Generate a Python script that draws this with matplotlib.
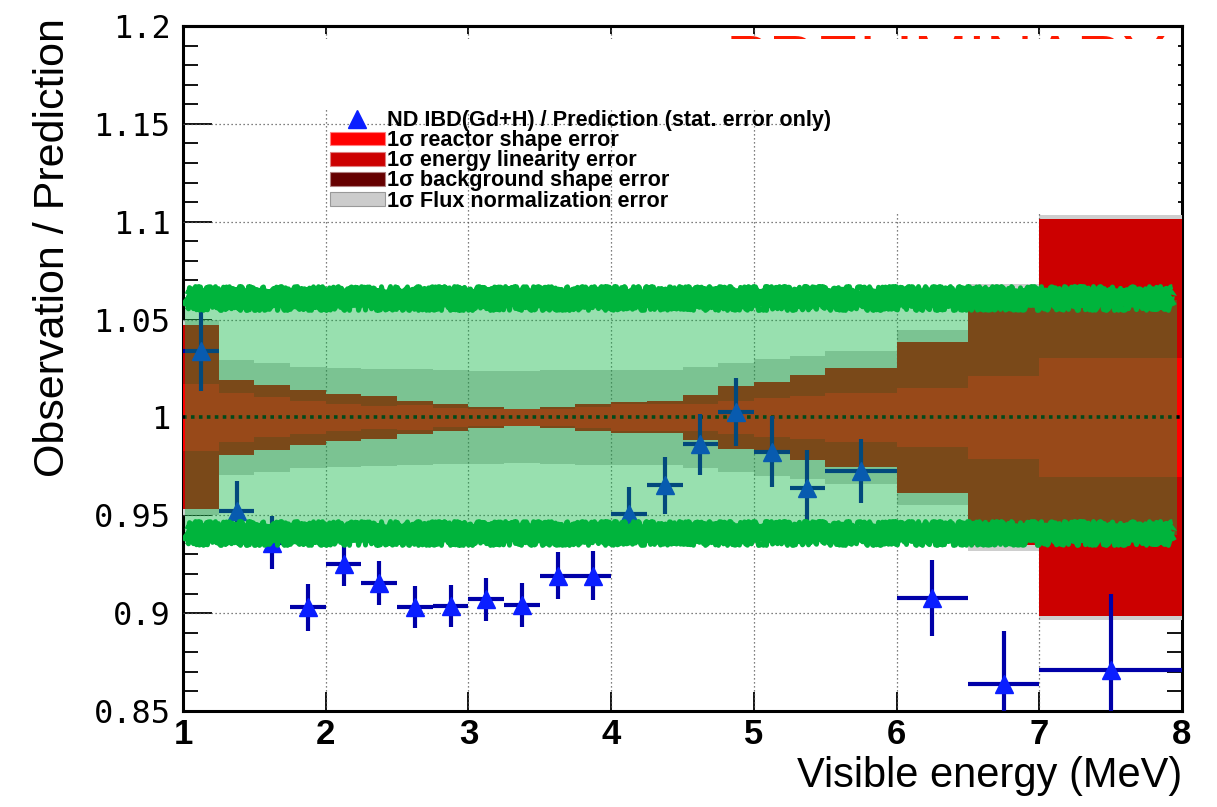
import numpy as np
import matplotlib
matplotlib.use("Agg")
import matplotlib.pyplot as plt
from matplotlib.patches import Rectangle, Patch
from matplotlib.lines import Line2D
from matplotlib.ticker import FixedLocator, MultipleLocator, NullLocator

# ---------------------------------------------------------------- data
bin_edges = [1.0, 1.25, 1.5, 1.75, 2.0, 2.25, 2.5, 2.75, 3.0, 3.25, 3.5, 3.75,
             4.0, 4.25, 4.5, 4.75, 5.0, 5.25, 5.5, 6.0, 6.5, 7.0, 8.0]

# observed / predicted ratio with statistical errors
ratio = [1.034, 0.952, 0.936, 0.903, 0.925, 0.9155, 0.903, 0.9035, 0.907, 0.904,
         0.919, 0.919, 0.9506, 0.9654, 0.9863, 1.0027, 0.9825, 0.9639, 0.9727,
         0.9077, 0.864, 0.8707]
stat_err = [0.0205, 0.0155, 0.0136, 0.012, 0.011, 0.0113, 0.0108, 0.0108, 0.011,
            0.0112, 0.012, 0.0125, 0.0136, 0.0145, 0.0157, 0.0172, 0.018, 0.0195,
            0.0164, 0.0195, 0.027, 0.039]

# 1 sigma half widths of the systematic bands (around 1)
reactor_hw = [0.017, 0.0125, 0.0102, 0.0085, 0.0068, 0.006, 0.0062, 0.005, 0.0042,
              0.0043, 0.0045, 0.0055, 0.007, 0.007, 0.007, 0.0085, 0.010, 0.011,
              0.0125, 0.015, 0.021, 0.0303]
linearity_hw = [0.047, 0.019, 0.0165, 0.014, 0.0122, 0.0108, 0.0083, 0.0067, 0.0053,
                0.0045, 0.0054, 0.0068, 0.0079, 0.0082, 0.0116, 0.0163, 0.0183,
                0.0215, 0.0255, 0.0385, 0.065, 0.1015]
flux_hw = [0.050, 0.0295, 0.028, 0.026, 0.0255, 0.025, 0.0245, 0.024, 0.0237,
           0.0235, 0.024, 0.0243, 0.0243, 0.0243, 0.026, 0.028, 0.030, 0.0315,
           0.034, 0.0445, 0.068, 0.1035]

x_ticks = [1, 2, 3, 4, 5, 6, 7, 8]
y_ticks = [0.85, 0.9, 0.95, 1.0, 1.05, 1.1, 1.15, 1.2]
y_tick_labels = ["0.85", "0.9", "0.95", "1", "1.05", "1.1", "1.15", "1.2"]

legend_labels = ["ND IBD(Gd+H) / Prediction (stat. error only)",
                 "1σ reactor shape error",
                 "1σ energy linearity error",
                 "1σ background shape error",
                 "1σ Flux normalization error"]

# ---------------------------------------------------------------- figure
W, H, DPI = 1217, 807, 100
fig = plt.figure(figsize=(W / DPI, H / DPI), dpi=DPI, facecolor="white")
ax = fig.add_axes([183 / W, 1 - 711 / H, 999 / W, 685 / H])
ax.set_xlim(1, 8)
ax.set_ylim(0.85, 1.2)

edges = np.asarray(bin_edges)
centers = 0.5 * (edges[:-1] + edges[1:])
half_bin = 0.5 * np.diff(edges)
r = np.asarray(reactor_hw)
lin = np.asarray(linearity_hw)
flx = np.asarray(flux_hw)

# systematic bands
ax.stairs(1 + flx, edges, baseline=1 - flx, fill=True,
          facecolor="#cecece", edgecolor="none", lw=0, zorder=2.0)
ax.stairs(1 + lin, edges, baseline=1 - lin, fill=True,
          facecolor="#cc0000", edgecolor="none", lw=0, zorder=2.1)
ax.stairs(1 + r, edges, baseline=1 - r, fill=True,
          facecolor="#ff0000", edgecolor="none", lw=0, zorder=2.2)

# dotted grid
grid_kw = dict(color="#555555", lw=0.9, ls=(0, (1, 2.2)), zorder=2.05)
for gx in x_ticks[1:-1]:
    ax.axvline(gx, **grid_kw)
for gy in [0.9, 0.95, 1.05, 1.1, 1.15]:
    ax.axhline(gy, **grid_kw)

# red stamp across the top, mostly masked
ax.text(4.80, 1.172, "PRELIMINARY", color="#ff1a00", fontsize=47,
        family="Liberation Sans", ha="left", va="baseline", zorder=2.0,
        clip_on=True)
# white masks over the upper area
ax.add_patch(Rectangle((1.2, 1.157), 7.97 - 1.2, 1.1935 - 1.157,
                       facecolor="white", edgecolor="none", zorder=2.06))
ax.add_patch(Rectangle((5.45, 1.1045), 7.97 - 5.45, 1.1935 - 1.1045,
                       facecolor="white", edgecolor="none", zorder=2.06))

# unity reference line
ax.axhline(1.0, color="black", lw=2.6, ls=(0, (1, 1.2)), zorder=2.5)

# data points
ax.errorbar(centers, ratio, xerr=half_bin, yerr=stat_err, fmt="none",
            ecolor="#0000a8", elinewidth=3, capsize=0, zorder=3)
ax.plot(centers, ratio, ls="none", marker="^", ms=13.5, color="#0a1eff",
        mec="#0a1eff", zorder=3.1)

# translucent green box with rough borders
ax.add_patch(Rectangle((1.014, 0.94), 7.965 - 1.014, 0.12, facecolor="#06b43e",
                       edgecolor="none", alpha=0.41, zorder=4))
for yb in (1.061, 0.9408):
    ln, = ax.plot([1.015, 7.94], [yb, yb], color="#00b43c", lw=10,
                  solid_capstyle="butt", zorder=5)
    ln.set_sketch_params(scale=3, length=3, randomness=8)
    for dy in (-0.004, 0.004):
        ln2, = ax.plot([1.02, 7.93], [yb + dy, yb + dy], color="#00b43c", lw=3.5,
                       solid_capstyle="butt", zorder=5)
        ln2.set_sketch_params(scale=4, length=2, randomness=14)

# axes frame and ticks
for s in ax.spines.values():
    s.set_linewidth(2.2)
ax.spines["left"].set_zorder(1.9)
ax.spines["right"].set_zorder(1.9)

ax.xaxis.set_major_locator(FixedLocator(x_ticks))
ax.xaxis.set_minor_locator(NullLocator())
ax.yaxis.set_major_locator(FixedLocator(y_ticks))
ax.yaxis.set_minor_locator(MultipleLocator(0.01))
ax.set_xticklabels([str(v) for v in x_ticks], family="Liberation Sans",
                   weight="bold", fontsize=25)
ax.set_yticklabels(y_tick_labels, family="DejaVu Sans Mono", fontsize=23)
ax.tick_params(axis="x", which="major", direction="in", length=14, width=1.3,
               pad=5, top=False)
ax.tick_params(axis="y", which="major", direction="in", length=21, width=1.3,
               pad=9, left=True, right=True)
ax.tick_params(axis="y", which="minor", direction="in", length=11, width=1.3,
               left=True, right=True)

top = ax.secondary_xaxis("top")
top.xaxis.set_major_locator(FixedLocator(x_ticks))
top.tick_params(direction="in", length=6, width=1.3, labeltop=False)
top.spines["top"].set_linewidth(2.2)

fig.text(1182 / W, 1 - 776 / H, "Visible energy (MeV)", ha="right", va="center",
         family="Liberation Sans", fontsize=30)
fig.text(53 / W, 1 - 18 / H, "Observation / Prediction", ha="center", va="top",
         rotation=90, family="Liberation Sans", fontsize=31)

# legend
handles = [Line2D([], [], marker="^", ls="none", color="#0a1eff", ms=13),
           Patch(facecolor="#ff0000", edgecolor="#ff8080", lw=0.8),
           Patch(facecolor="#cc0000", edgecolor="#e08080", lw=0.8),
           Patch(facecolor="#660000", edgecolor="#b08080", lw=0.8),
           Patch(facecolor="#cccccc", edgecolor="#999999", lw=0.8)]
leg = ax.legend(handles, legend_labels, loc="upper left",
                bbox_to_anchor=(330 / W, 1 - 110 / H), bbox_transform=fig.transFigure,
                frameon=False, prop=dict(family="Liberation Sans", weight="bold", size=15.6),
                handlelength=2.53, handleheight=0.6, handletextpad=0.12,
                labelspacing=-0.04, borderpad=0, borderaxespad=0)
leg.set_zorder(6)

fig.savefig("out.png", dpi=DPI, facecolor="white")
